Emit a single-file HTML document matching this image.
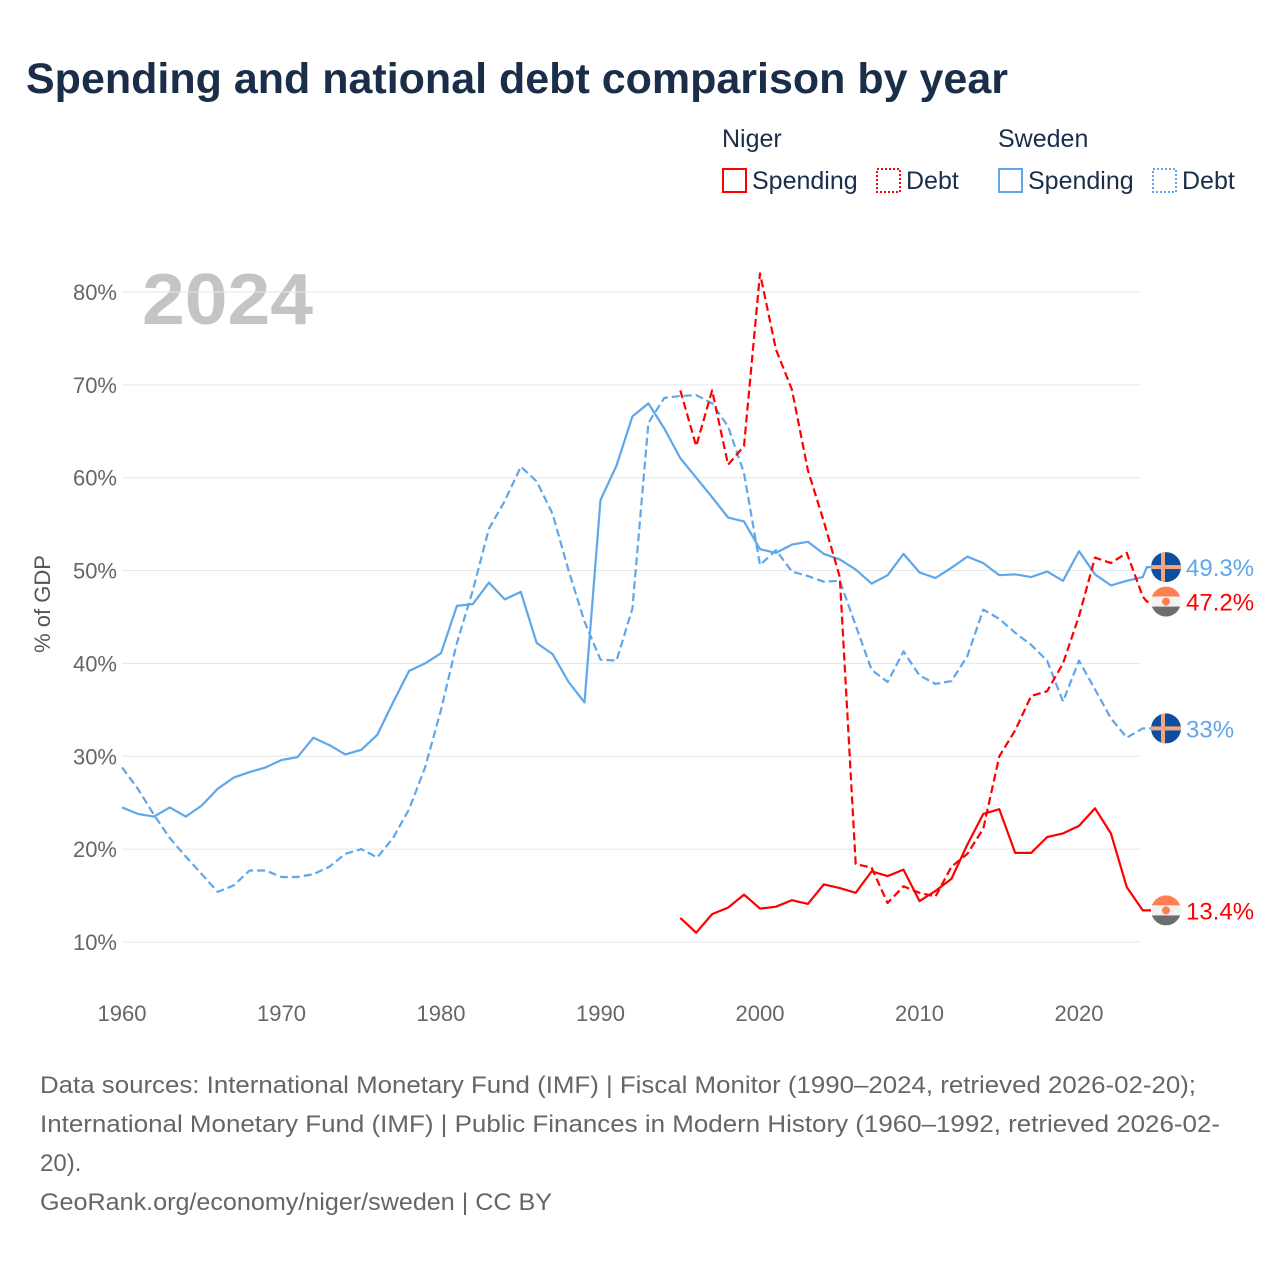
<!DOCTYPE html>
<html><head><meta charset="utf-8"><style>
body{margin:0;background:#fff;font-family:"Liberation Sans",sans-serif;}
#wrap{position:relative;width:1280px;height:1280px;overflow:hidden;}
</style></head><body>
<div id="wrap">
<svg id="chart" width="1280" height="1280">
<text x="26" y="93" font-size="43" font-weight="bold" fill="#1a2e4a" textLength="982" lengthAdjust="spacingAndGlyphs">Spending and national debt comparison by year</text>
<g font-size="25" fill="#1a2e4a">
<text x="722" y="147">Niger</text>
<text x="998" y="147">Sweden</text>
<g><rect x="723" y="169" width="23" height="23" fill="none" stroke="#ff0000" stroke-width="2"/><text x="752" y="189">Spending</text></g>
<g><rect x="877" y="169" width="23" height="23" fill="none" stroke="#ff0000" stroke-width="2" stroke-dasharray="2,2"/><text x="906" y="189">Debt</text></g>
<g><rect x="999" y="169" width="23" height="23" fill="none" stroke="#5fa6ea" stroke-width="2"/><text x="1028" y="189">Spending</text></g>
<g><rect x="1153" y="169" width="23" height="23" fill="none" stroke="#5fa6ea" stroke-width="2" stroke-dasharray="2,2"/><text x="1182" y="189">Debt</text></g>
</g>
<text x="142" y="324" font-size="72" font-weight="bold" fill="#c4c4c4" textLength="171" lengthAdjust="spacingAndGlyphs">2024</text>
<g id="grid"></g><g id="series"></g><g id="ends"></g>
<text transform="translate(50,604) rotate(-90)" text-anchor="middle" font-size="22" fill="#555">% of GDP</text>
<g font-size="24" fill="#666">
<text x="40" y="1093" textLength="1156" lengthAdjust="spacingAndGlyphs">Data sources: International Monetary Fund (IMF) | Fiscal Monitor (1990–2024, retrieved 2026-02-20);</text>
<text x="40" y="1132" textLength="1180" lengthAdjust="spacingAndGlyphs">International Monetary Fund (IMF) | Public Finances in Modern History (1960–1992, retrieved 2026-02-</text>
<text x="40" y="1171">20).</text>
<text x="40" y="1210" textLength="512" lengthAdjust="spacingAndGlyphs">GeoRank.org/economy/niger/sweden | CC BY</text>
</g>
</svg>
</div>
<script>
const yTicks=[10,20,30,40,50,60,70,80];
const xTicks=[1960,1970,1980,1990,2000,2010,2020];
const swedenYears0=1960;
const swedenSpending=[24.5,23.8,23.5,24.5,23.5,24.7,26.5,27.7,28.3,28.8,29.6,29.9,32.0,31.2,30.2,30.7,32.3,35.8,39.2,40.0,41.1,46.2,46.4,48.7,46.9,47.7,42.2,41.0,38.0,35.8,57.6,61.3,66.6,68.0,65.3,62.1,60.0,57.9,55.7,55.3,52.3,51.9,52.8,53.1,51.8,51.2,50.1,48.6,49.5,51.8,49.8,49.2,50.3,51.5,50.8,49.5,49.6,49.3,49.9,48.9,52.1,49.6,48.4,48.9,49.3];
const swedenDebt=[28.8,26.5,23.7,21.2,19.2,17.3,15.4,16.1,17.7,17.7,17.0,17.0,17.3,18.1,19.5,20.0,19.1,21.2,24.3,28.8,35.0,42.2,47.9,54.5,57.5,61.2,59.6,56.1,50.0,44.5,40.4,40.3,45.9,65.9,68.6,68.8,68.9,68.0,65.5,60.5,50.6,52.2,49.9,49.4,48.8,48.9,44.1,39.3,38.0,41.3,38.7,37.8,38.1,40.8,45.8,44.8,43.3,42.0,40.3,35.9,40.3,37.2,34.1,32.0,33.0];
const nigerYears0=1995;
const nigerSpending=[12.6,11.0,13.0,13.7,15.1,13.6,13.8,14.5,14.1,16.2,15.8,15.3,17.6,17.1,17.8,14.4,15.5,16.8,20.5,23.8,24.3,19.6,19.6,21.3,21.7,22.5,24.4,21.7,15.9,13.4];
const nigerDebt=[69.4,63.4,69.4,61.4,63.4,82.0,73.8,69.5,60.8,55.3,49.3,18.4,18.0,14.2,16.0,15.3,14.9,18.1,19.5,22.2,30.0,32.8,36.5,37.0,40.0,45.1,51.4,50.8,51.9,47.2];
const endLabels=["49.3%","47.2%","33%","13.4%"];

const NS="http://www.w3.org/2000/svg";
const X=yr=>122+(yr-1960)*(1079-122)/60;
const Y=v=>942-(v-10)*(942-292)/70;
function mk(t,a,p){const e=document.createElementNS(NS,t);for(const k in a)e.setAttribute(k,a[k]);p.appendChild(e);return e;}
const grid=document.getElementById('grid');
yTicks.forEach(v=>{
  const l=mk('line',{x1:122,x2:1140,y1:Y(v),y2:Y(v),stroke:'#e6e6e6','stroke-width':1},grid);
  
  
  const t=mk('text',{x:117,y:Y(v)+8,'text-anchor':'end','font-size':22,fill:'#666'},grid);
  t.textContent=v+'%';
  
  
});
xTicks.forEach(yr=>{
  const t=mk('text',{x:X(yr),y:1021,'text-anchor':'middle','font-size':22,fill:'#666'},grid);
  t.textContent=yr;
  
  
});
const ser=document.getElementById('series');
function line(arr,y0,color,dash,name,endOff){
  const pts=arr.map((v,i)=>X(y0+i).toFixed(1)+','+Y(v).toFixed(1));
  const last=arr[arr.length-1];
  const lx=X(y0+arr.length-1);
  pts.push((lx+4).toFixed(1)+','+(Y(last)+endOff).toFixed(1));
  pts.push((lx+10).toFixed(1)+','+(Y(last)+endOff).toFixed(1));
  const p=mk('polyline',{points:pts.join(' '),fill:'none',stroke:color,'stroke-width':2.2,'stroke-linejoin':'round'},ser);
  if(dash)p.setAttribute('stroke-dasharray','8,4');
  
  
}
const endOffs=[-10,5,0,0];
line(swedenSpending,swedenYears0,'#5fa6ea',false,'line-sweden-spending',endOffs[0]);
line(swedenDebt,swedenYears0,'#5fa6ea',true,'line-sweden-debt',endOffs[2]);
line(nigerSpending,nigerYears0,'#ff0000',false,'line-niger-spending',endOffs[3]);
line(nigerDebt,nigerYears0,'#ff0000',true,'line-niger-debt',endOffs[1]);
const ends=document.getElementById('ends');
function flag(cy,country){
  const g=mk('g',{},ends);
  
  
  const cx=1166,r=15;
  const cid='c'+Math.round(cy);
  const cp=mk('clipPath',{id:cid},g);mk('circle',{cx,cy,r},cp);
  const gg=mk('g',{'clip-path':'url(#'+cid+')'},g);
  if(country==='sweden'){
    mk('rect',{x:cx-r,y:cy-r,width:2*r,height:2*r,fill:'#0b4ea2'},gg);
    mk('rect',{x:cx-r,y:cy-2,width:2*r,height:4,fill:'#f7a67a'},gg);
    mk('rect',{x:cx-5,y:cy-r,width:4,height:2*r,fill:'#f7a67a'},gg);
  }else{
    mk('rect',{x:cx-r,y:cy-r,width:2*r,height:10,fill:'#ff7f50'},gg);
    mk('rect',{x:cx-r,y:cy-5,width:2*r,height:10,fill:'#f2f2f2'},gg);
    mk('rect',{x:cx-r,y:cy+5,width:2*r,height:10,fill:'#6d6d6d'},gg);
    mk('circle',{cx,cy,r:4,fill:'#ff7f50'},gg);
  }
}
const endVals=[swedenSpending[64],nigerDebt[29],swedenDebt[64],nigerSpending[29]];
const endCols=['#5fa6ea','#ff0000','#5fa6ea','#ff0000'];
const endCountry=['sweden','niger','sweden','niger'];
const endNames=['end-label-sweden-spending','end-label-niger-debt','end-label-sweden-debt','end-label-niger-spending'];
endVals.forEach((v,i)=>{
  const cy=Y(v)+endOffs[i];
  flag(cy,endCountry[i]);
  const t=mk('text',{x:1186,y:cy+9,'font-size':24,fill:endCols[i]},ends);
  t.textContent=endLabels[i];
  
  
});
</script>
</body></html>
